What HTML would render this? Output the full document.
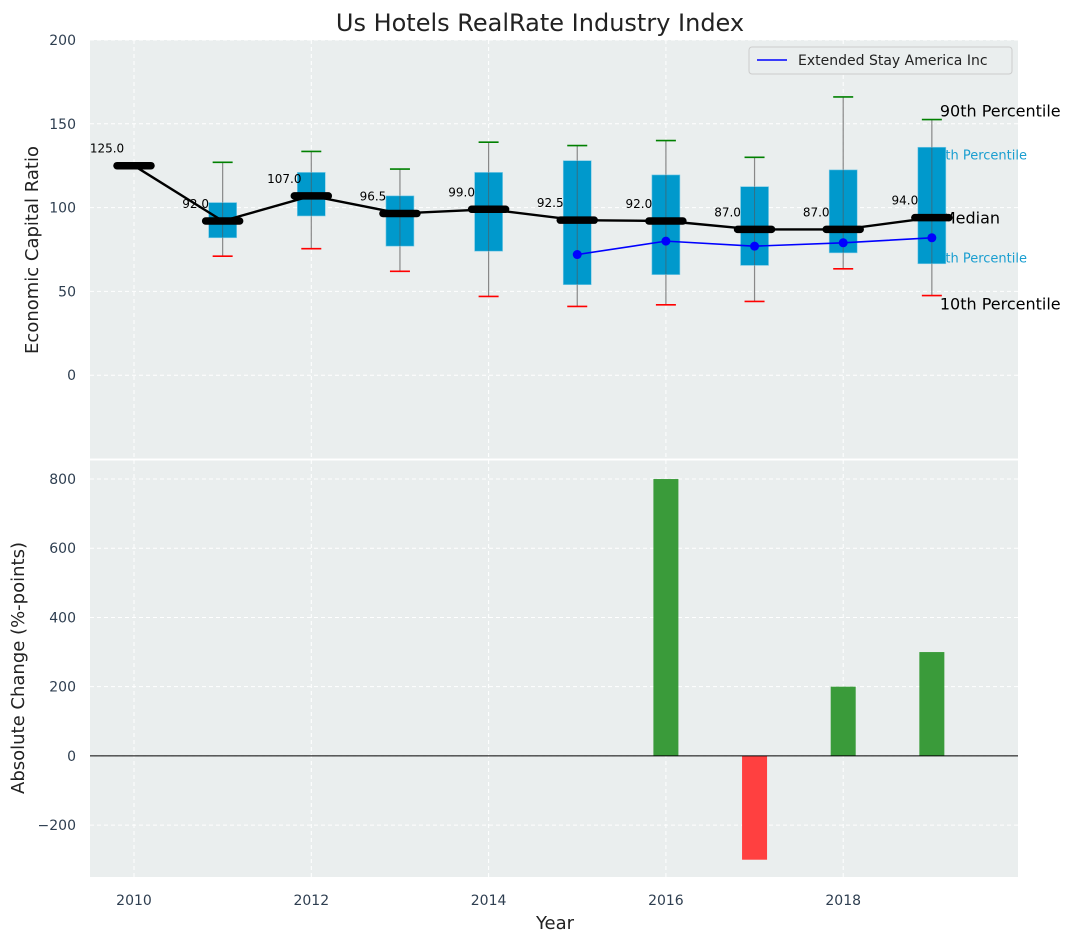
<!DOCTYPE html>
<html><head><meta charset="utf-8"><style>
body{margin:0;background:#fff;font-family:"Liberation Sans","DejaVu Sans",sans-serif}
svg text{font-family:"DejaVu Sans","Liberation Sans",sans-serif}
</style></head><body>
<svg id="chart" width="1075" height="942" viewBox="0 0 1075 942" xmlns="http://www.w3.org/2000/svg">
<rect width="1075" height="942" fill="#fff"/>
<g id="g"></g>
</svg>
<script>
const years=[2011,2012,2013,2014,2015,2016,2017,2018,2019];
const p10=[71,75.5,62,47,41,42,44,63.5,47.5];
const q1=[82,95,77,74,54,60,65.5,73,66.5];
const q3=[103,121,107,121,128,119.5,112.5,122.5,136];
const p90=[127,133.5,123,139,137,140,130,166,152.5];
const firstYear=2010;
const firstMedian=125;
const medians=[92,107,96.5,99,92.5,92,87,87,94];
const compYears=[2015,2016,2017,2018,2019];
const compVals=[72,80,77,79,82];
const barYears=[2016,2017,2018,2019];
const barVals=[800,-300,200,300];
const xTicks=[2010,2012,2014,2016,2018];
const yTicksTop=[0,50,100,150,200];
const yTicksBot=[-200,0,200,400,600,800];

const NS='http://www.w3.org/2000/svg';
const g=document.getElementById('g');
function el(t,a,txt){const e=document.createElementNS(NS,t);for(const k in a)e.setAttribute(k,a[k]);if(txt!=null)e.textContent=txt;g.appendChild(e);return e;}
const X0=90,X1=1018;
const x=v=>134+(v-2010)*88.65;
const T0=40,T1=459,yt=v=>T1-(v+50)/250*(T1-T0);
const B0=460,B1=877,yb=v=>B1-(v+350)/(855+350)*(B1-B0);
const medYearsAll=[firstYear].concat(years);
const mediansAll=[firstMedian].concat(medians);

let e;
e=el('rect',{x:X0,y:T0,width:X1-X0,height:T1-T0,fill:'#eaeeee'});

e=el('rect',{x:X0,y:B0,width:X1-X0,height:B1-B0,fill:'#eaeeee'});

xTicks.forEach(t=>{el('line',{x1:x(t),x2:x(t),y1:T0,y2:T1,stroke:'#fff','stroke-dasharray':'4,3','stroke-width':1});el('line',{x1:x(t),x2:x(t),y1:B0,y2:B1,stroke:'#fff','stroke-dasharray':'4,3','stroke-width':1});
 e=el('text',{x:x(t),y:905,'text-anchor':'middle','font-size':14,fill:'#2e3e50'},t);
 });
yTicksTop.forEach(t=>{el('line',{x1:X0,x2:X1,y1:yt(t),y2:yt(t),stroke:'#fff','stroke-dasharray':'4,3'});
 e=el('text',{x:76,y:yt(t)+5,'text-anchor':'end','font-size':14,fill:'#2e3e50'},t);
 });
yTicksBot.forEach(t=>{el('line',{x1:X0,x2:X1,y1:yb(t),y2:yb(t),stroke:'#fff','stroke-dasharray':'4,3'});
 e=el('text',{x:76,y:yb(t)+5,'text-anchor':'end','font-size':14,fill:'#2e3e50'},t<0?'\u2212'+(-t):t);
 });
el('line',{x1:X0,x2:X1,y1:459.5,y2:459.5,stroke:'#fff','stroke-width':2});
const ax=x(2019);
[['90th Percentile',yt(p90[8])-3,'#000',16,ax+8],['75th Percentile',yt(q3[8])+12,'#1a9ed0',13,ax-3],['Median',yt(medians[8])+6,'#000',16,ax+10],['25th Percentile',yt(q1[8])-1,'#1a9ed0',13,ax-3],['10th Percentile',yt(p10[8])+14,'#000',16,ax+8]].forEach(a=>{
 e=el('text',{x:a[4],y:a[1],'font-size':a[3],fill:a[2]},a[0]);
 });
years.forEach((yr,i)=>{const cx=x(yr);
 e=el('line',{x1:cx,x2:cx,y1:yt(p90[i]),y2:yt(p10[i]),stroke:'#888','stroke-width':1.2});
 
 e=el('rect',{x:cx-14,y:yt(q3[i]),width:28,height:yt(q1[i])-yt(q3[i]),fill:'#0099cc',stroke:'#7fcbe6','stroke-width':0.6});
 
 el('line',{x1:cx,x2:cx,y1:yt(q3[i]),y2:yt(q1[i]),stroke:'#555','stroke-width':1,opacity:0.6});
 e=el('line',{x1:cx-10,x2:cx+10,y1:yt(p90[i]),y2:yt(p90[i]),stroke:'green','stroke-width':1.6});
 
 e=el('line',{x1:cx-10,x2:cx+10,y1:yt(p10[i]),y2:yt(p10[i]),stroke:'red','stroke-width':1.6});
 
});
e=el('polyline',{points:medYearsAll.map((y,i)=>x(y)+','+yt(mediansAll[i])).join(' '),fill:'none',stroke:'#000','stroke-width':2.4});

medYearsAll.forEach((yr,i)=>{const cx=x(yr),cy=yt(mediansAll[i]);
 e=el('line',{x1:cx-17,x2:cx+17,y1:cy,y2:cy,stroke:'#000','stroke-width':7.5,'stroke-linecap':'round'});
 
 e=el('text',{x:cx-27,y:cy-13,'text-anchor':'middle','font-size':12,fill:'#000'},mediansAll[i].toFixed(1));
 });
e=el('polyline',{points:compYears.map((y,i)=>x(y)+','+yt(compVals[i])).join(' '),fill:'none',stroke:'#0000ff','stroke-width':1.6});

compYears.forEach((yr,i)=>{e=el('circle',{cx:x(yr),cy:yt(compVals[i]),r:4.5,fill:'#0000ff'});
 });
e=el('rect',{x:749,y:47,width:263,height:27,rx:3,fill:'#eaeeee',stroke:'#ccc'});

el('line',{x1:757,x2:787,y1:60,y2:60,stroke:'#0000ff','stroke-width':1.6});
e=el('text',{x:798,y:65,'font-size':14,fill:'#222'},'Extended Stay America Inc');

barYears.forEach((yr,i)=>{const v=barVals[i];
 e=el('rect',{x:x(yr)-12.5,y:yb(Math.max(v,0)),width:25,height:Math.abs(yb(v)-yb(0)),fill:v>=0?'#3a9b3a':'#ff4040'});
 });
el('line',{x1:X0,x2:X1,y1:yb(0),y2:yb(0),stroke:'#000','stroke-width':1});
e=el('text',{x:540,y:31,'text-anchor':'middle','font-size':24,fill:'#222'},'Us Hotels RealRate Industry Index');

e=el('text',{x:555,y:929,'text-anchor':'middle','font-size':18,fill:'#222'},'Year');

e=el('text',{x:0,y:0,'text-anchor':'middle','font-size':18,fill:'#222',transform:'translate(38,250) rotate(-90)'},'Economic Capital Ratio');

e=el('text',{x:0,y:0,'text-anchor':'middle','font-size':18,fill:'#222',transform:'translate(24,668) rotate(-90)'},'Absolute Change (%-points)');

</script>
</body></html>
